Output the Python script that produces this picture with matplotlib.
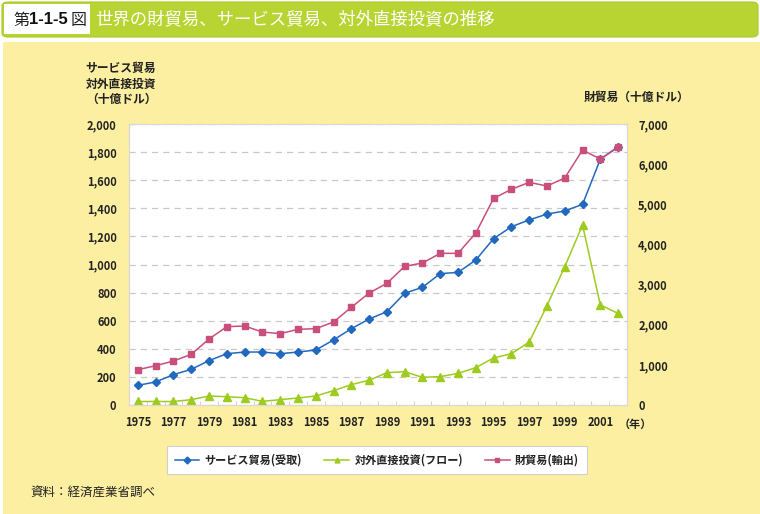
import matplotlib
matplotlib.use("Agg")
import matplotlib.pyplot as plt
from matplotlib.patches import FancyBboxPatch, Rectangle
from matplotlib.ticker import FuncFormatter, MultipleLocator

plt.rcParams['font.family'] = ['Noto Sans CJK JP', 'DejaVu Sans']

years = list(range(1975, 2003))
services = [140, 164, 216, 254, 316, 365, 377, 377, 365, 377, 391, 463, 543, 612,
            664, 795, 838, 935, 944, 1032, 1184, 1269, 1317, 1359, 1381, 1428, 1749, 1839]
fdi = [25, 25, 25, 38, 64, 59, 52, 26, 38, 50, 64, 102, 145, 176,
       230, 237, 197, 202, 225, 266, 335, 365, 448, 707, 984, 1281, 712, 652]
goods = [880, 979, 1096, 1262, 1644, 1951, 1968, 1818, 1777, 1885, 1901, 2068, 2433, 2790,
         3031, 3455, 3537, 3778, 3778, 4285, 5148, 5373, 5547, 5455, 5655, 6352, 6128, 6419]
xtick_years = list(range(1975, 2002, 2))
labels = ['サービス貿易(受取)', '対外直接投資(フロー)', '財貿易(輸出)']

W, H = 760, 514
fig = plt.figure(figsize=(W / 100, H / 100), dpi=100)
fig.patch.set_facecolor('white')

def fx(px):
    return px / W

def fy(py):
    return 1 - py / H

# background panels
fig.patches.append(Rectangle((fx(3), 0), fx(757), fy(42), transform=fig.transFigure,
                             facecolor='#FCEFA1', edgecolor='none', zorder=-2))
fig.patches.append(FancyBboxPatch((fx(2), fy(37)), fx(756), fy(2) - fy(37),
                                  boxstyle='round,pad=0,rounding_size=0.008',
                                  transform=fig.transFigure, facecolor='#B8D432',
                                  edgecolor='#A9C828', lw=0.8, zorder=-2))
fig.patches.append(Rectangle((fx(4), fy(34)), fx(86), fy(4) - fy(34), transform=fig.transFigure,
                             facecolor='white', edgecolor='none', zorder=-1))

fig.text(fx(13), fy(20), '第', fontsize=11.5, va='center', ha='left', color='#222222')
fig.text(fx(29), fy(19), '1-1-5', fontsize=12, fontweight='bold', va='center', ha='left',
         color='#111111', family=['Liberation Sans'])
fig.text(fx(71), fy(20), '図', fontsize=11.5, va='center', ha='left', color='#222222')
fig.text(fx(95), fy(19), '世界の財貿易、サービス貿易、対外直接投資の推移', fontsize=12.5,
         va='center', ha='left', color='white')

ax = fig.add_axes([fx(129), fy(405), fx(627) - fx(129), fy(124) - fy(405)])
ax.set_facecolor('white')
ax2 = ax.twinx()
ax.set_zorder(2)
ax2.set_zorder(3)

c_blue = '#2169BE'
c_green = '#9ECB1E'
c_pink = '#C84F7B'

l1, = ax.plot(years, services, color=c_blue, marker='D', markersize=4.3, lw=1.1, zorder=5)
l2, = ax.plot(years, fdi, color=c_green, marker='^', markersize=5.8, lw=1.1, zorder=5)
l3, = ax2.plot(years, goods, color=c_pink, marker='s', markersize=4.8, lw=1.1, zorder=5)

ax.set_xlim(1974.5, 2002.5)
ax.set_ylim(0, 2000)
ax2.set_ylim(0, 7000)
ax.yaxis.set_major_locator(MultipleLocator(200))
ax2.yaxis.set_major_locator(MultipleLocator(1000))
fmt = FuncFormatter(lambda v, p: f'{int(v):,}')
ax.yaxis.set_major_formatter(fmt)
ax2.yaxis.set_major_formatter(fmt)
ax.set_xticks(xtick_years)
ax.set_xticks([y + 0.5 for y in range(1974, 2003)], minor=True)

ax.grid(axis='y', color='#C8C8C8', linestyle=(0, (5, 4)), lw=0.9)
ax.set_axisbelow(True)

for a in (ax, ax2):
    for s in a.spines.values():
        s.set_color('#D8D8D8')
        s.set_linewidth(0.8)
ax.tick_params(axis='x', which='major', length=0, pad=8, labelsize=8)
ax.tick_params(axis='x', which='minor', length=3, color='#CCCCCC', direction='in')
ax.tick_params(axis='y', length=0, pad=9, labelsize=8)
ax2.tick_params(axis='y', length=0, pad=8, labelsize=8)
for lab in ax.get_xticklabels() + ax.get_yticklabels() + ax2.get_yticklabels():
    lab.set_fontweight('bold')
    lab.set_color('#222222')

fig.text(fx(121), fy(84), 'サービス貿易\n対外直接投資\n（十億ドル）', fontsize=8.5,
         fontweight='bold', ha='center', va='center', linespacing=1.25, color='#222222')
fig.text(fx(637), fy(97), '財貿易（十億ドル）', fontsize=8.5, fontweight='bold',
         ha='center', va='center', color='#222222')
fig.text(fx(635), fy(424), '（年）', fontsize=8, fontweight='bold', ha='center', va='center',
         color='#222222')
fig.text(fx(30), fy(492), '資料：経済産業省調べ', fontsize=9, ha='left', va='center',
         color='#222222')

leg = fig.legend([l1, l2, l3], labels, loc='center', bbox_to_anchor=(fx(377), fy(460)),
                 ncol=3, frameon=True, fancybox=False, fontsize=8, handlelength=2.2,
                 columnspacing=2.0, handletextpad=0.5, borderpad=0.7, framealpha=1)
leg.get_frame().set_edgecolor('#D0D0D0')
leg.get_frame().set_linewidth(0.8)
leg.set_zorder(5)
for line in leg.get_lines():
    line.set_markersize(3.5)
for t in leg.get_texts():
    t.set_fontweight('bold')
    t.set_color('#222222')

fig.savefig('out.png', dpi=100, facecolor=fig.get_facecolor())
